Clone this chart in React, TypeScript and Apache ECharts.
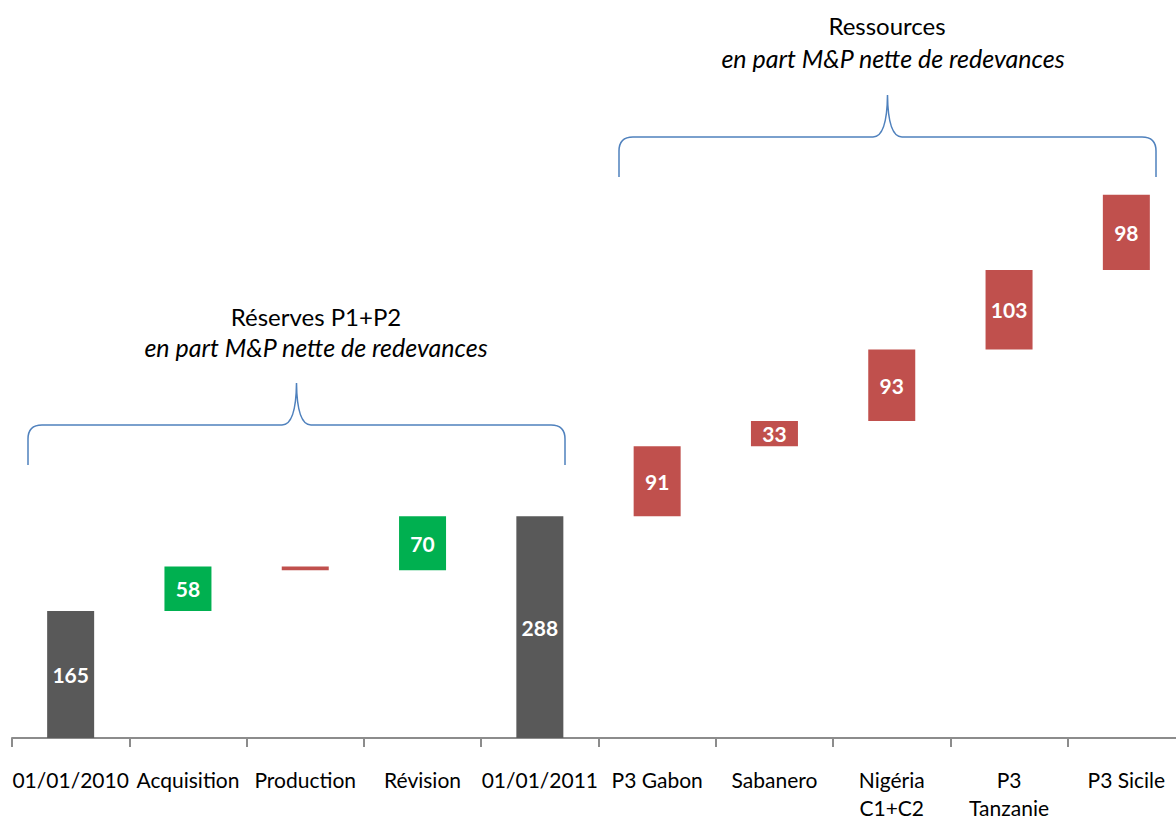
import React, { useEffect, useRef } from "react";
import * as echarts from "echarts";

const categories = [
  "01/01/2010",
  "Acquisition",
  "Production",
  "Révision",
  "01/01/2011",
  "P3 Gabon",
  "Sabanero",
  "Nigéria\nC1+C2",
  "P3\nTanzanie",
  "P3 Sicile",
];
const values = [165, 58, -5, 70, 288, 91, 33, 93, 103, 98];
const kinds = ["total", "up", "down", "up", "total", "res", "res", "res", "res", "res"];
const showValue = [true, true, false, true, true, true, true, true, true, true];

const kindColors: Record<string, string> = {
  total: "#595959",
  up: "#00B050",
  down: "#C0504D",
  res: "#C0504D",
};

const groupTitles = ["Réserves P1+P2", "Ressources"];
const groupSubtitle = "en part M&P nette de redevances";

const BRACE_D =
  "M0 82 L0 56 Q0 42 14 42 L254 42 Q268 42 268.5 0 Q269 42 283 42 L523 42 Q537 42 537 56 L537 82";

export default function App() {
  const ref = useRef<HTMLDivElement>(null);
  useEffect(() => {
    if (!ref.current) return;
    try {
      echarts.graphic.registerShape("brace", echarts.graphic.extendPath(BRACE_D, {}));
    } catch (e) {}
    const chart = echarts.init(ref.current, null, { renderer: "svg" });

    const bases: number[] = [];
    const heights: number[] = [];
    let running = 0;
    values.forEach((v, i) => {
      if (kinds[i] === "total") {
        bases.push(0);
        heights.push(v);
        running = v;
      } else if (v >= 0) {
        bases.push(running);
        heights.push(v);
        running += v;
      } else {
        running += v;
        bases.push(running);
        heights.push(-v);
      }
    });

    const font = "Lato, 'Open Sans', sans-serif";

    chart.setOption({
      animation: false,
      grid: { left: 12, width: 1173, top: 0, height: 743, containLabel: false },
      xAxis: {
        type: "category",
        data: categories,
        axisLine: { lineStyle: { color: "#8C8C8C", width: 2 } },
        axisTick: { show: true, length: 9, lineStyle: { color: "#8C8C8C", width: 2 } },
        axisLabel: {
          interval: 0,
          margin: 27,
          color: "#000",
          fontSize: 21,
          lineHeight: 28,
          fontFamily: font,
        },
      },
      yAxis: { type: "value", min: 0, max: 959, show: false, splitLine: { show: false } },
      series: [
        {
          type: "bar",
          stack: "w",
          barWidth: 47,
          data: bases,
          itemStyle: { color: "transparent" },
          silent: true,
        },
        {
          type: "bar",
          stack: "w",
          barWidth: 47,
          data: heights.map((h, i) => ({
            value: h,
            itemStyle: { color: kindColors[kinds[i]] },
            label: {
              show: showValue[i],
              formatter: String(values[i]),
            },
          })),
          label: {
            position: "inside",
            color: "#fff",
            fontWeight: "bold",
            fontSize: 21,
            fontFamily: font,
          },
        },
      ],
      graphic: [
        {
          type: "brace",
          x: 28,
          y: 383,
          style: { fill: "none", stroke: "#4F81BD", lineWidth: 1.5 },
        },
        {
          type: "brace",
          x: 619,
          y: 95,
          style: { fill: "none", stroke: "#4F81BD", lineWidth: 1.5 },
        },
        {
          type: "text",
          x: 316,
          y: 316,
          style: {
            text: groupTitles[0],
            fontSize: 24,
            fontFamily: font,
            fill: "#000",
            align: "center",
            verticalAlign: "middle",
          },
        },
        {
          type: "text",
          x: 316,
          y: 347,
          style: {
            text: groupSubtitle,
            fontSize: 25,
            fontStyle: "italic",
            fontFamily: font,
            fill: "#000",
            align: "center",
            verticalAlign: "middle",
          },
        },
        {
          type: "text",
          x: 887,
          y: 25,
          style: {
            text: groupTitles[1],
            fontSize: 24,
            fontFamily: font,
            fill: "#000",
            align: "center",
            verticalAlign: "middle",
          },
        },
        {
          type: "text",
          x: 893,
          y: 58,
          style: {
            text: groupSubtitle,
            fontSize: 25,
            fontStyle: "italic",
            fontFamily: font,
            fill: "#000",
            align: "center",
            verticalAlign: "middle",
          },
        },
      ],
    });
    return () => chart.dispose();
  }, []);
  return (
    <div
      ref={ref}
      style={{ position: "fixed", left: 0, top: 0, width: 1190, height: 821, background: "#fff" }}
    />
  );
}
